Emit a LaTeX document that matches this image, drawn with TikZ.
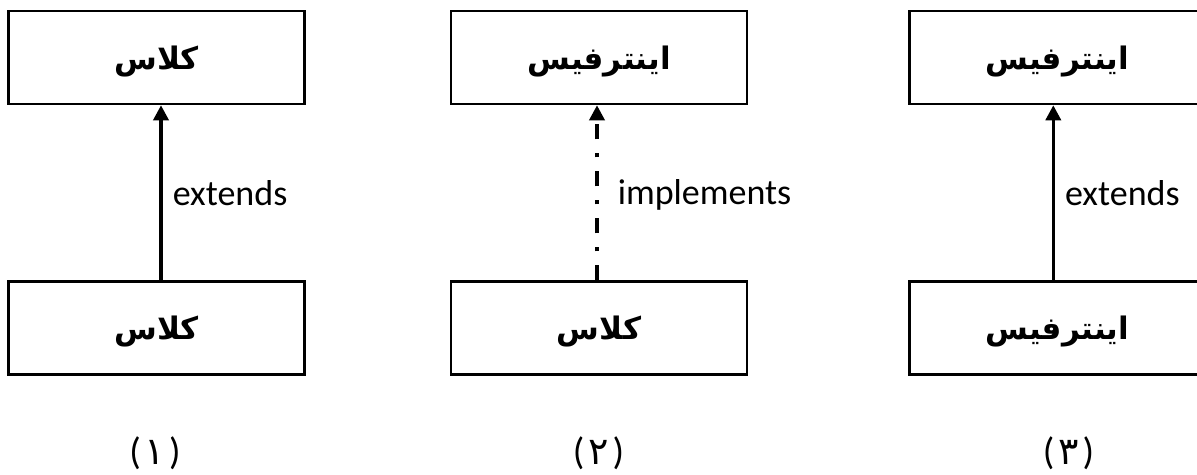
\documentclass[tikz,border=0pt]{standalone}
\usepackage{fontspec}
\setmainfont{Carlito}
\newfontfamily\arabicfont[Script=Arabic]{DejaVu Sans}
\TeXXeTstate=1
\usetikzlibrary{arrows.meta}

\begin{document}
\begin{tikzpicture}[x=1pt,y=-1pt,
  umlbox/.style={draw, line width=2.5pt, minimum width=296pt, minimum height=93pt,
    inner sep=0pt, text depth=0pt,
    font=\arabicfont\bfseries\fontsize{31}{38}\selectfont},
  link/.style={line width=3.5pt, -{Triangle[length=15pt,width=15pt]}},
  realize/.style={link, dash pattern=on 15pt off 14pt on 4pt off 14pt},
  relname/.style={font=\fontsize{36}{43}\selectfont, inner sep=0pt, anchor=west},
  caption/.style={font=\fontsize{38}{45}\selectfont, inner sep=0pt}]

\fill[white] (0,0) rectangle (1197,474);
\clip (0,0) rectangle (1197,474);

% (1) class extends class
\node[umlbox] (c1top) at (156.5,57.5) {\beginR کلاس\endR};
\node[umlbox] (c1bot) at (156.5,328) {\beginR کلاس\endR};
\draw[link] ([xshift=4.5pt]c1bot.north) -- ([xshift=4.5pt]c1top.south)
  node[midway, relname, xshift=10pt] (l1) {extends};
\node[caption] (cap1) at (155,453) {(\hspace{4pt}{\arabicfont ۱}\hspace{4pt})};

% (2) class implements interface
\node[umlbox] (c2top) at (599,57.5) {\beginR اینترفیس\endR};
\node[umlbox] (c2bot) at (599,328) {\beginR کلاس\endR};
\draw[realize] ([xshift=-2pt]c2bot.north) -- ([xshift=-2pt]c2top.south)
  node[midway, relname, xshift=19pt, yshift=-2pt] (l2) {implements};
\node[caption] (cap2) at (598.5,453) {(\hspace{4pt}{\arabicfont ۲}\hspace{4pt})};

% (3) interface extends interface
\node[umlbox] (c3top) at (1057.3,57.5) {\beginR اینترفیس\endR};
\node[umlbox] (c3bot) at (1057.3,328) {\beginR اینترفیس\endR};
\draw[link] ([xshift=-4pt]c3bot.north) -- ([xshift=-4pt]c3top.south)
  node[midway, relname, xshift=10pt] (l3) {extends};
\node[caption] (cap3) at (1068.5,453) {(\hspace{4pt}{\arabicfont ۳}\hspace{4pt})};
\end{tikzpicture}
\end{document}
